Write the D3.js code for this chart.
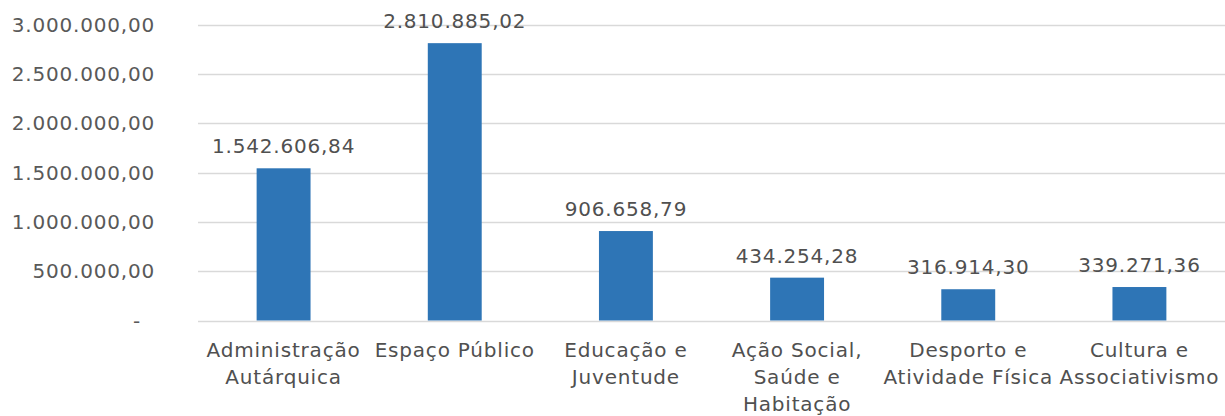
<!DOCTYPE html>
<html>
<head>
<meta charset="utf-8">
<script src="https://cdn.jsdelivr.net/npm/d3@7"></script>
<style>
  body { margin: 0; background: #fff; }
  svg { display: block; font-family: "DejaVu Sans", Verdana, sans-serif; letter-spacing: 0.8px; }
</style>
</head>
<body>
<svg id="chart" width="1225" height="416"></svg>
<script>
// categories (line breaks as in the original axis labels)
const categories = [
    "Administração\nAutárquica",
    "Espaço Público",
    "Educação e\nJuventude",
    "Ação Social,\nSaúde e\nHabitação",
    "Desporto e\nAtividade Física",
    "Cultura e\nAssociativismo"
];
const values = [1542606.84, 2810885.02, 906658.79, 434254.28, 316914.30, 339271.36];
const yTicks = [0, 500000, 1000000, 1500000, 2000000, 2500000, 3000000];

const svg = d3.select("#chart");
const plotLeft = 198, plotRight = 1225, plotTop = 24.5, plotBottom = 320.5;

const pt = d3.formatLocale({decimal: ",", thousands: ".", grouping: [3], currency: ["", ""]});
const fmt = pt.format(",.2f");

const x = d3.scaleBand()
    .domain(categories)
    .range([plotLeft, plotRight])
    .paddingInner(0.685)
    .paddingOuter(0.3425);

const y = d3.scaleLinear()
    .domain([0, 3000000])
    .range([plotBottom, plotTop]);

// gridlines
svg.append("g")
    .selectAll("line")
    .data(yTicks)
    .join("line")
    .attr("x1", plotLeft)
    .attr("x2", plotRight)
    .attr("y1", d => Math.round(y(d)) + 0.5)
    .attr("y2", d => Math.round(y(d)) + 0.5)
    .attr("stroke", "#d9d9d9")
    .attr("stroke-width", 1.3);

// y tick labels
svg.append("g")
    .selectAll("text")
    .data(yTicks)
    .join("text")
    .attr("x", d => d === 0 ? 141 : 155)
    .attr("y", d => y(d))
    .attr("dy", "0.35em")
    .attr("text-anchor", "end")
    .attr("font-size", 20)
    .attr("fill", "#595959")
    .text(d => d === 0 ? "-" : fmt(d));

// bars
svg.append("g")
    .selectAll("rect")
    .data(values)
    .join("rect")
    .attr("x", (d, i) => x(categories[i]))
    .attr("width", x.bandwidth())
    .attr("y", d => y(d))
    .attr("height", d => y(0) - y(d))
    .attr("fill", "#2e75b6");

// value labels
svg.append("g")
    .selectAll("text")
    .data(values)
    .join("text")
    .attr("x", (d, i) => x(categories[i]) + x.bandwidth() / 2)
    .attr("y", d => y(d) - 15)
    .attr("text-anchor", "middle")
    .attr("font-size", 20)
    .attr("fill", "#505050")
    .text(d => fmt(d));

// category labels
const cat = svg.append("g")
    .selectAll("text")
    .data(categories)
    .join("text")
    .attr("x", d => x(d) + x.bandwidth() / 2)
    .attr("y", 357)
    .attr("text-anchor", "middle")
    .attr("font-size", 20)
    .attr("fill", "#505050");

cat.selectAll("tspan")
    .data(d => d.split("\n").map(s => ({s, cx: x(d) + x.bandwidth() / 2})))
    .join("tspan")
    .attr("x", d => d.cx)
    .attr("dy", (d, i) => i ? 27 : 0)
    .text(d => d.s);
</script>
</body>
</html>
